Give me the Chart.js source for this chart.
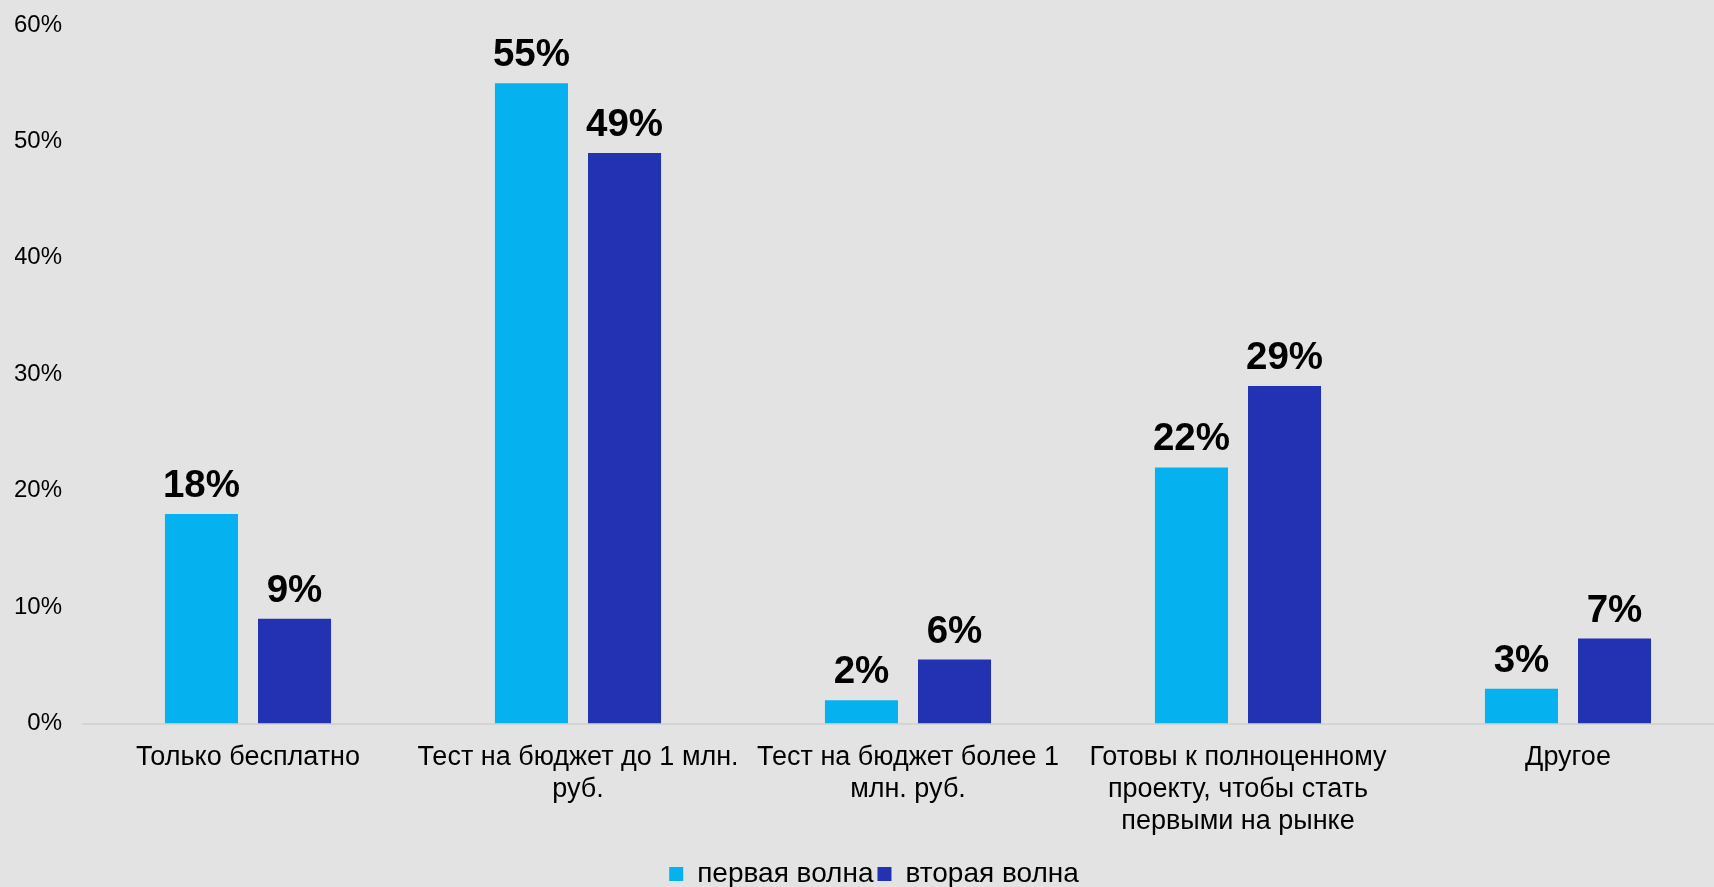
<!DOCTYPE html>
<html>
<head>
<meta charset="utf-8">
<script src="https://cdn.jsdelivr.net/npm/chart.js@4"></script>
<style>
  html,body{margin:0;padding:0;background:#e3e3e3;overflow:hidden;}
  #wrap{width:1734px;height:887px;position:relative;}
</style>
</head>
<body>
<div id="wrap"><canvas id="chart"></canvas></div>
<script>
const FONT = '"Liberation Sans", Arial, sans-serif';

const categories = [
  'Только бесплатно',
  ['Тест на бюджет до 1 млн.', 'руб.'],
  ['Тест на бюджет более 1', 'млн. руб.'],
  ['Готовы к полноценному', 'проекту, чтобы стать', 'первыми на рынке'],
  'Другое'
];
const seriesNames = ['первая волна', 'вторая волна'];
const firstWave  = [18, 55, 2, 22, 3];
const secondWave = [9, 49, 5.5, 29, 7.3];
const yTicks = {min: 0, max: 60, step: 10};

// value labels above bars
const valueLabels = {
  id: 'valueLabels',
  afterDatasetsDraw(chart){
    const ctx = chart.ctx;
    ctx.save();
    ctx.font = 'bold 38.5px ' + FONT;
    ctx.fillStyle = '#000';
    ctx.textAlign = 'center';
    ctx.textBaseline = 'alphabetic';
    chart.data.datasets.forEach((ds, i) => {
      chart.getDatasetMeta(i).data.forEach((bar, j) => {
        ctx.fillText(Math.round(ds.data[j]) + '%', bar.x, bar.y - 17);
      });
    });
    ctx.restore();
  }
};

new Chart(document.getElementById('chart'), {
  type: 'bar',
  data: {
    labels: categories,
    datasets: [
      {label: seriesNames[0], data: firstWave, backgroundColor: '#05b1ef'},
      {label: seriesNames[1], data: secondWave, backgroundColor: '#2332b3'}
    ]
  },
  options: {
    responsive: true, maintainAspectRatio: false, animation: false,
    categoryPercentage: 0.564, barPercentage: 0.785,
    layout: {padding: {left: 15, right: 1, top: 0, bottom: -11}},
    scales: {
      x: {
        grid: {display: false, drawTicks: false},
        border: {display: true, color: '#d4d4d4', width: 2},
        ticks: {color: '#000', padding: 18, font: {family: FONT, size: 27, lineHeight: 1.19}, maxRotation: 0, autoSkip: false}
      },
      y: {
        min: yTicks.min, max: yTicks.max,
        afterFit: s => { s.width = 68; s.paddingTop = 25; },
        grid: {display: false, drawTicks: false},
        border: {display: false},
        ticks: {stepSize: yTicks.step, color: '#000', padding: 21, font: {family: FONT, size: 24}, callback: v => v + '%'}
      }
    },
    plugins: {
      legend: {
        position: 'bottom',
        labels: {color: '#000', boxWidth: 14, boxHeight: 14, padding: 4, font: {family: FONT, size: 28}}
      },
      tooltip: {enabled: false}
    }
  },
  plugins: [valueLabels]
});
</script>
</body>
</html>
